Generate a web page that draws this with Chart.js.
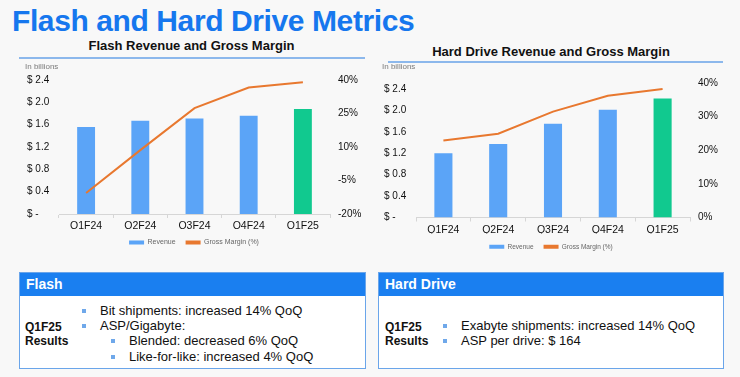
<!DOCTYPE html>
<html>
<head>
<meta charset="utf-8">
<script src="https://cdn.jsdelivr.net/npm/chart.js@4"></script>
<style>
  html, body { margin: 0; padding: 0; }
  body {
    width: 740px; height: 377px; position: relative; overflow: hidden;
    background: #f8f8f8;
    font-family: "Liberation Sans", Arial, sans-serif;
    color: #111;
  }
  .abs { position: absolute; }
  #title {
    left: 12px; top: 6px; font-size: 30px; line-height: 30px; font-weight: bold;
    color: #1677ee; letter-spacing: -0.4px; white-space: nowrap;
  }
  .sub { font-size: 13px; line-height: 13px; font-weight: bold; text-align: center; color: #111; white-space: nowrap; }
  .rule { height: 2px; background: #8cb8ec; }
  .unit { font-size: 8px; line-height: 10px; color: #7a7a7a; }
  .box { background: #fff; border: 1.5px solid #6aa5ea; box-sizing: border-box; }
  .box .head {
    position: absolute; left: 0; top: 0; right: 0; height: 23px; background: #1a7ff0;
    color: #fff; font-weight: bold; font-size: 14px; line-height: 23px; padding-left: 6px;
  }
  .txt { font-size: 13px; line-height: 15px; white-space: nowrap; color: #111; }
  .lbl { font-size: 12px; line-height: 14px; font-weight: bold; color: #111; }
  .bul { width: 4px; height: 4px; background: #6fa8ea; }
  canvas { position: absolute; }
</style>
</head>
<body>
<div id="title" class="abs">Flash and Hard Drive Metrics</div>

<div class="abs sub" style="left:0; top:39px; width:383px;">Flash Revenue and Gross Margin</div>
<div class="abs rule" style="left:19px; top:57px; width:346px;"></div>
<div class="abs sub" style="left:370px; top:45px; width:362px;">Hard Drive Revenue and Gross Margin</div>
<div class="abs rule" style="left:388px; top:61px; width:335px;"></div>

<canvas id="flashChart" style="left:0; top:60px;" width="370" height="196"></canvas>
<canvas id="hddChart" style="left:370px; top:60px;" width="370" height="200"></canvas>

<div class="abs unit" style="left:25px; top:62px;">In billions</div>
<div class="abs unit" style="left:382px; top:62px;">In billions</div>

<!-- Flash results box -->
<div class="abs box" style="left:19px; top:272px; width:347px; height:97px;">
  <div class="head">Flash</div>
</div>
<div class="abs lbl" style="left:25px; top:320px;">Q1F25</div>
<div class="abs lbl" style="left:25px; top:334px;">Results</div>
<div class="abs bul" style="left:82px; top:309px;"></div>
<div class="abs txt" style="left:100px; top:303px;">Bit shipments: increased 14% QoQ</div>
<div class="abs bul" style="left:82px; top:324px;"></div>
<div class="abs txt" style="left:100px; top:318px;">ASP/Gigabyte:</div>
<div class="abs bul" style="left:111px; top:339px;"></div>
<div class="abs txt" style="left:129px; top:333px;">Blended: decreased 6% QoQ</div>
<div class="abs bul" style="left:111px; top:355px;"></div>
<div class="abs txt" style="left:129px; top:349px;">Like-for-like: increased 4% QoQ</div>

<!-- Hard drive results box -->
<div class="abs box" style="left:378px; top:272px; width:346px; height:97px;">
  <div class="head">Hard Drive</div>
</div>
<div class="abs lbl" style="left:385px; top:320px;">Q1F25</div>
<div class="abs lbl" style="left:385px; top:334px;">Results</div>
<div class="abs bul" style="left:443px; top:324px;"></div>
<div class="abs txt" style="left:461px; top:318px;">Exabyte shipments: increased 14% QoQ</div>
<div class="abs bul" style="left:443px; top:339px;"></div>
<div class="abs txt" style="left:461px; top:333px;">ASP per drive: $ 164</div>

<script>
// quarters on the x axis
const quarters = ['Q1F24', 'Q2F24', 'Q3F24', 'Q4F24', 'Q1F25'];

// Flash: revenue ($B) and gross margin (%)
const flashRevenue = [1.56, 1.67, 1.71, 1.76, 1.88];
const flashMargin = [-10.6, 8.6, 27.4, 36.6, 39.0];

// Hard drive: revenue ($B) and gross margin (%)
const hddRevenue = [1.20, 1.37, 1.75, 2.01, 2.22];
const hddMargin = [22.9, 24.9, 31.5, 36.2, 38.2];

// left axis ticks (both charts)
const revenueTicks = [0, 0.4, 0.8, 1.2, 1.6, 2.0, 2.4];

const BLUE = '#5ba4f7';
const GREEN = '#11c98f';
const ORANGE = '#e8782f';
const barColors = [BLUE, BLUE, BLUE, BLUE, GREEN];
const FONT = '"Liberation Sans", Arial, sans-serif';

Chart.defaults.font.family = FONT;
Chart.defaults.color = '#111';

function makeChart(canvasId, revenue, margin, opts) {
    const ctx = document.getElementById(canvasId).getContext('2d');
    return new Chart(ctx, {
        type: 'bar',
        data: {
            labels: quarters,
            datasets: [
                {
                    type: 'bar',
                    label: 'Revenue',
                    data: revenue,
                    backgroundColor: barColors,
                    barPercentage: 0.33,
                    categoryPercentage: 1,
                    yAxisID: 'y',
                    order: 2
                },
                {
                    type: 'line',
                    label: 'Gross Margin (%)',
                    data: margin,
                    borderColor: ORANGE,
                    backgroundColor: ORANGE,
                    borderWidth: 2,
                    pointRadius: 0,
                    tension: 0,
                    yAxisID: 'y1',
                    order: 1
                }
            ]
        },
        options: {
            responsive: false,
            animation: false,
            layout: { padding: { left: opts.padLeft, right: opts.padRight, top: opts.padTop, bottom: 0 } },
            plugins: {
                tooltip: { enabled: false },
                legend: {
                    position: 'bottom',
                    labels: {
                        boxWidth: 15,
                        boxHeight: 4,
                        padding: 10,
                        color: '#666',
                        font: { size: opts.legendSize },
                        generateLabels: () => [
                            { text: 'Revenue', fillStyle: BLUE, strokeStyle: BLUE, lineWidth: 0, datasetIndex: 0, fontColor: '#666' },
                            { text: 'Gross Margin (%)', fillStyle: ORANGE, strokeStyle: ORANGE, lineWidth: 0, datasetIndex: 1, fontColor: '#666' }
                        ]
                    }
                }
            },
            scales: {
                x: {
                    grid: { drawOnChartArea: false, drawTicks: true, tickLength: 4, color: '#d6d6d6' },
                    border: { color: '#d6d6d6' },
                    ticks: { font: { size: 10.5 }, padding: 2, color: '#111' },
                    afterFit: s => { s.height = opts.xHeight; }
                },
                y: {
                    position: 'left',
                    min: 0,
                    max: opts.revMax,
                    grid: { display: false, drawTicks: false },
                    border: { display: false },
                    afterBuildTicks: s => { s.ticks = revenueTicks.map(v => ({ value: v })); },
                    ticks: {
                        crossAlign: 'far',
                        font: { size: 10 },
                        color: '#111',
                        callback: v => v === 0 ? '$ -' : '$ ' + v.toFixed(1)
                    },
                    afterFit: s => { s.width = opts.leftW; }
                },
                y1: {
                    position: 'right',
                    min: opts.gmMin,
                    max: opts.gmMax,
                    grid: { display: false, drawTicks: false },
                    border: { display: false },
                    ticks: {
                        stepSize: opts.gmStep,
                        padding: 8,
                        font: { size: 10 },
                        color: '#111',
                        callback: v => v + '%'
                    },
                    afterFit: s => { s.width = opts.rightW; }
                }
            }
        }
    });
}

makeChart('flashChart', flashRevenue, flashMargin, {
    padLeft: 27, padRight: 9, padTop: 20, leftW: 32, rightW: 31,
    revMax: 2.4, gmMin: -20, gmMax: 40, gmStep: 15,
    xHeight: 15, legendSize: 7
});

makeChart('hddChart', hddRevenue, hddMargin, {
    padLeft: 14, padRight: 22, padTop: 23, leftW: 32, rightW: 28,
    revMax: 2.51, gmMin: 0, gmMax: 40, gmStep: 10,
    xHeight: 16, legendSize: 6.5
});
</script>
</body>
</html>
